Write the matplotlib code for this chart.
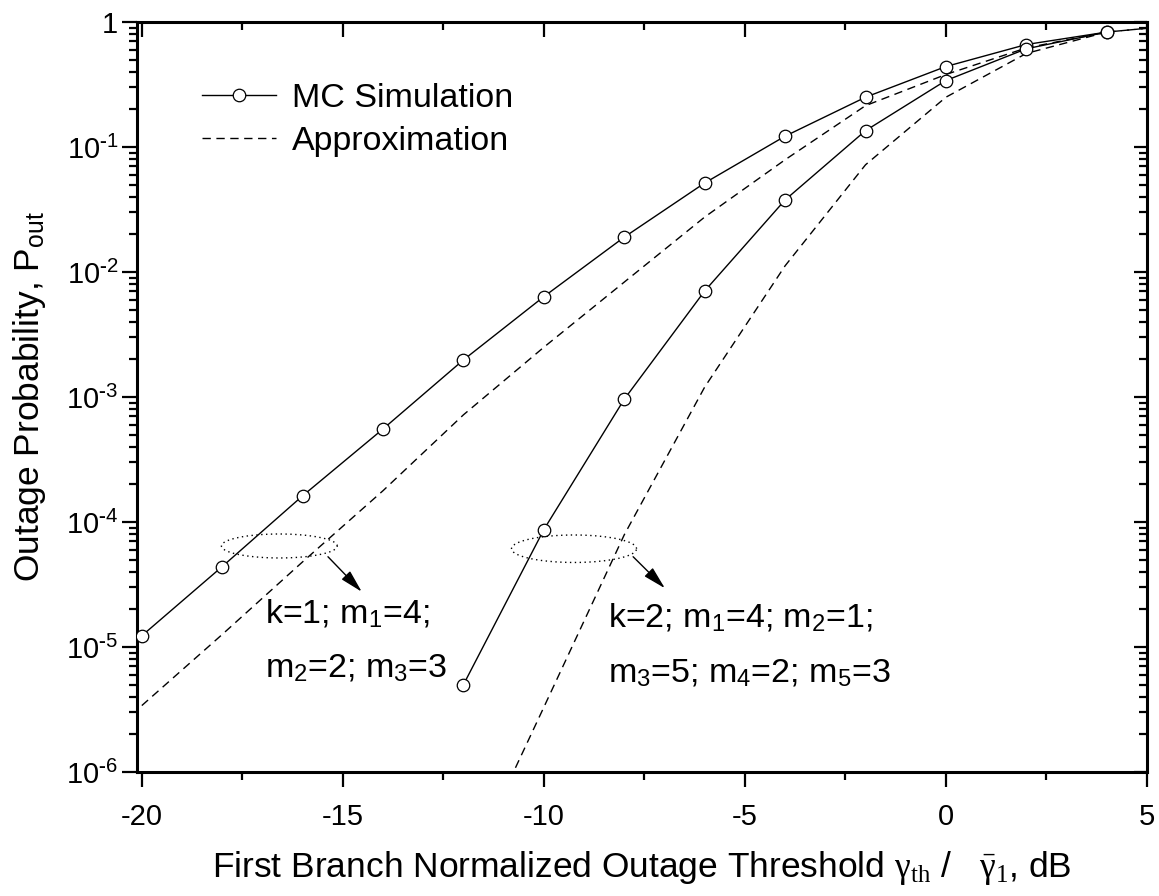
"""
Outage probability vs. normalized threshold: MC simulation and approximation
for two branch configurations (k=1 and k=2).
"""
import numpy as np
import matplotlib.pyplot as plt
from matplotlib.ticker import LogLocator, NullFormatter, FuncFormatter, MultipleLocator

plt.rcParams["font.family"] = ["Liberation Sans", "DejaVu Sans"]
plt.rcParams["mathtext.fontset"] = "custom"
plt.rcParams["mathtext.rm"] = "Liberation Serif"
plt.rcParams["mathtext.it"] = "Liberation Serif:italic"
plt.rcParams["mathtext.sf"] = "Liberation Sans"
plt.rcParams["axes.unicode_minus"] = False

# ---- data -------------------------------------------------------------------
thr_mc_k1 = [-20, -18, -16, -14, -12, -10, -8, -6, -4, -2, 0, 2, 4]
pout_mc_k1 = [1.23e-5, 4.4e-5, 1.62e-4, 5.55e-4, 1.98e-3, 6.35e-3, 1.9e-2,
              5.15e-2, 0.122, 0.25, 0.44, 0.66, 0.83]

thr_mc_k2 = [-12, -10, -8, -6, -4, -2, 0, 2, 4]
pout_mc_k2 = [5.0e-6, 8.7e-5, 9.6e-4, 7.05e-3, 3.77e-2, 0.135, 0.34, 0.61, 0.83]

thr_ap_k1 = [-20, -18, -16, -14, -12, -10, -8, -6, -4, -2, 0, 2, 4, 5]
pout_ap_k1 = [3.4e-6, 1.26e-5, 4.8e-5, 1.78e-4, 7.2e-4, 2.5e-3, 8.3e-3,
              2.75e-2, 7.9e-2, 0.214, 0.38, 0.62, 0.83, 0.89]

thr_ap_k2 = [-11, -10, -8, -6, -4, -2, 0, 2, 4, 5]
pout_ap_k2 = [6.8e-7, 3.3e-6, 7.9e-5, 1.2e-3, 1.12e-2, 7.2e-2, 0.25, 0.56,
              0.83, 0.89]

FS_TICK = 21
FS_TEXT = 24.5
FS_LABEL = 25.5


def log_label(v, pos):
    e = int(round(np.log10(v)))
    if e == 0:
        return "1"
    return rf"$\mathdefault{{10^{{\text{{-}}{abs(e)}}}}}$"


def dotted_ellipse(ax, cx, cy_log, w, h_log):
    # ellipse in (linear x, log y) space
    t = np.linspace(0, 2 * np.pi, 240)
    ex = cx + 0.5 * w * np.cos(t)
    ey = 10 ** (cy_log + 0.5 * h_log * np.sin(t))
    ax.plot(ex, ey, color="black", lw=1.0, ls=(0, (1, 2.5)))


def main():
    fig = plt.figure(figsize=(11.59, 8.96), dpi=100)
    ax = fig.add_axes([0.1182, 0.1384, 0.8714, 0.8371])

    dash = (0, (6, 4))
    ax.plot(thr_ap_k1, pout_ap_k1, color="black", lw=1.0, ls=dash,
            label="Approximation", zorder=2)
    ax.plot(thr_ap_k2, pout_ap_k2, color="black", lw=1.0, ls=dash, zorder=2)
    mk = dict(marker="o", ms=9, mfc="white", mec="black", mew=0.9)
    ax.plot(thr_mc_k1, pout_mc_k1, color="black", lw=1.0,
            label="MC Simulation", zorder=3, **mk)
    ax.plot(thr_mc_k2, pout_mc_k2, color="black", lw=1.0, zorder=3, **mk)

    ax.set_yscale("log")
    ax.set_xlim(-20.12, 5)
    ax.set_ylim(1e-6, 1)

    ax.xaxis.set_major_locator(MultipleLocator(5))
    ax.xaxis.set_minor_locator(MultipleLocator(2.5))
    ax.yaxis.set_major_locator(LogLocator(base=10, numticks=20))
    ax.yaxis.set_minor_locator(LogLocator(base=10, subs=np.arange(2, 10), numticks=20))
    ax.yaxis.set_major_formatter(FuncFormatter(log_label))
    ax.yaxis.set_minor_formatter(NullFormatter())

    for sp in ax.spines.values():
        sp.set_linewidth(2.2)
    ax.tick_params(which="major", direction="out", length=10.5, width=1.6,
                   labelsize=FS_TICK, pad=11.5)
    ax.tick_params(which="minor", direction="out", length=5.8, width=1.6)
    ax.tick_params(axis="y", which="major", pad=3)

    # mirrored ticks pointing inward on top / right
    top = ax.secondary_xaxis("top")
    top.xaxis.set_major_locator(MultipleLocator(5))
    top.xaxis.set_minor_locator(MultipleLocator(2.5))
    top.tick_params(which="major", direction="in", length=10.5, width=1.6, labeltop=False)
    top.tick_params(which="minor", direction="in", length=5.8, width=1.6)
    right = ax.secondary_yaxis("right")
    right.yaxis.set_major_locator(LogLocator(base=10, numticks=20))
    right.yaxis.set_minor_locator(LogLocator(base=10, subs=np.arange(2, 10), numticks=20))
    right.tick_params(which="major", direction="in", length=9.5, width=1.6, labelright=False)
    right.tick_params(which="minor", direction="in", length=5.8, width=1.6)
    right.yaxis.set_minor_formatter(NullFormatter())

    ax.set_xlabel(r"First Branch Normalized Outage Threshold $\mathrm{\gamma}_{\rm th}$ /   $\bar{\mathrm{\gamma}}_{\rm 1}$, dB",
                  fontsize=FS_LABEL, labelpad=13)
    ax.set_ylabel(r"Outage Probability, P$_\mathsf{out}$", fontsize=FS_LABEL, labelpad=13)

    # legend (MC first)
    h, l = ax.get_legend_handles_labels()
    ax.legend(h[::-1], l[::-1], loc="upper left", bbox_to_anchor=(0.064, 0.919),
              frameon=False, fontsize=FS_TEXT, handlelength=2.2, handletextpad=0.45,
              labelspacing=0.36, borderpad=0, borderaxespad=0, numpoints=1)

    # annotations: ellipses, arrows and parameter text
    dotted_ellipse(ax, -16.58, -4.192, 2.88, 0.192)
    dotted_ellipse(ax, -9.25, -4.214, 3.11, 0.22)
    arrow = dict(arrowstyle="-|>,head_length=0.7,head_width=0.18", color="black",
                 lw=1.0, shrinkA=0, shrinkB=0, mutation_scale=20)
    ax.annotate("", xy=(-14.53, 10 ** -4.558), xytext=(-15.37, 10 ** -4.278),
                arrowprops=arrow)
    ax.annotate("", xy=(-6.99, 10 ** -4.53), xytext=(-7.78, 10 ** -4.278),
                arrowprops=arrow)

    ax.text(-16.93, 10 ** -4.808, r"k=1; m$_\mathsf{1}$=4;", fontsize=FS_TEXT, va="baseline")
    ax.text(-16.93, 10 ** -5.24, r"m$_\mathsf{2}$=2; m$_\mathsf{3}$=3", fontsize=FS_TEXT, va="baseline")
    ax.text(-8.41, 10 ** -4.84, r"k=2; m$_\mathsf{1}$=4; m$_\mathsf{2}$=1;", fontsize=FS_TEXT, va="baseline")
    ax.text(-8.41, 10 ** -5.28, r"m$_\mathsf{3}$=5; m$_\mathsf{4}$=2; m$_\mathsf{5}$=3", fontsize=FS_TEXT, va="baseline")

    fig.savefig("out.png", dpi=100)


if __name__ == "__main__":
    main()
